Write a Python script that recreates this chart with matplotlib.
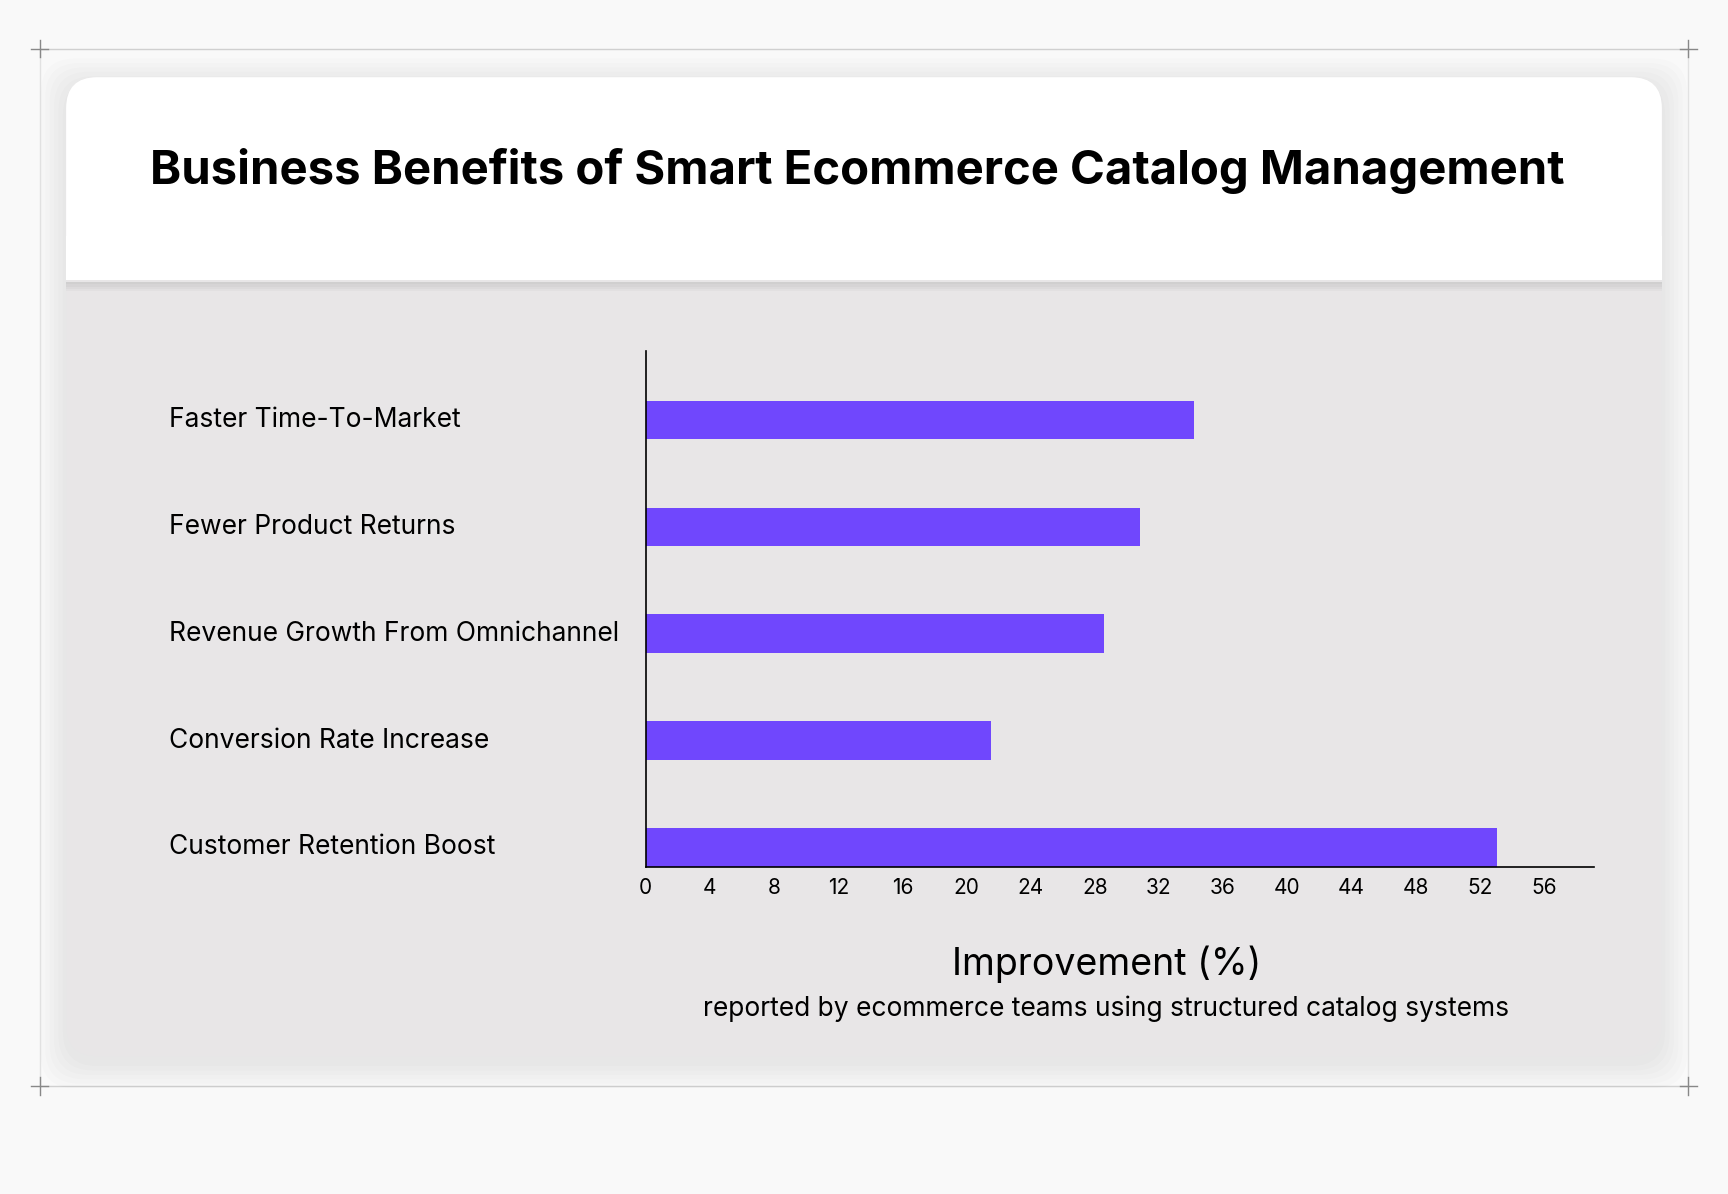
import matplotlib
matplotlib.use("Agg")
import matplotlib.pyplot as plt
from matplotlib.patches import FancyBboxPatch, Rectangle
from matplotlib.lines import Line2D
import matplotlib.transforms as mtrans

categories = ["Faster Time-To-Market", "Fewer Product Returns", "Revenue Growth From Omnichannel",
              "Conversion Rate Increase", "Customer Retention Boost"]
values = [34.2, 30.8, 28.6, 21.5, 53.1]
ticks = list(range(0, 57, 4))

W, H = 1568, 1083
fig = plt.figure(figsize=(17.28, 11.94), dpi=100)
fig.patch.set_facecolor("#f9f9f9")

def fx(x): return x / W
def fy(y): return 1 - y / H

Z = -10
for y in (44, 985):
    fig.add_artist(Line2D([fx(36), fx(1532)], [fy(y), fy(y)], color="#d0d0d0", lw=1, zorder=Z))
for x in (36, 1532):
    fig.add_artist(Line2D([fx(x), fx(x)], [fy(44), fy(985)], color="#e2e2e2", lw=1, zorder=Z))
for (x, y) in [(36, 44), (1532, 44), (36, 985), (1532, 985)]:
    fig.add_artist(Line2D([fx(x - 8), fx(x + 8)], [fy(y), fy(y)], color="#888", lw=1, zorder=Z))
    fig.add_artist(Line2D([fx(x), fx(x)], [fy(y - 8), fy(y + 8)], color="#888", lw=1, zorder=Z))

for i in range(6):
    d = 3 + i * 4
    fig.add_artist(FancyBboxPatch((fx(60 - d), fy(958 + d + 6)), fx(1448 + 2 * d), (888 + 2 * d) / H,
                   boxstyle="round,pad=0,rounding_size=0.02", transform=fig.transFigure,
                   fc="black", ec="none", alpha=0.012, mutation_aspect=W / H, zorder=Z))
fig.add_artist(FancyBboxPatch((fx(60), fy(958)), fx(1448), 888 / H,
               boxstyle="round,pad=0,rounding_size=0.018", transform=fig.transFigure,
               fc="#e8e6e7", ec="none", mutation_aspect=W / H, zorder=Z))
for i in range(4):
    fig.add_artist(Rectangle((fx(60), fy(256 + 2 * i + 2)), fx(1448), (2 * i + 2) / H, transform=fig.transFigure,
                   fc="black", ec="none", alpha=0.025, zorder=Z))
fig.add_artist(FancyBboxPatch((fx(60), fy(254)), fx(1448), 184 / H,
               boxstyle="round,pad=0,rounding_size=0.018", transform=fig.transFigure,
               fc="white", ec="none", mutation_aspect=W / H, zorder=Z))
fig.add_artist(Rectangle((fx(60), fy(254)), fx(1448), 40 / H, transform=fig.transFigure,
               fc="white", ec="none", zorder=Z))

fig.text(fx(778), fy(155), "Business Benefits of Smart Ecommerce Catalog Management",
         ha="center", va="center", fontsize=34, fontweight="bold", family="Inter")

ax = fig.add_axes([fx(586), fy(786), fx(1446 - 586), (786 - 318) / H])
ax.set_facecolor("none")
ypos = [4, 3, 2, 1, 0]
ax.barh(ypos, values, height=0.36, color="#7047fd", linewidth=0)
ax.set_xlim(0, 59.1)
ax.set_ylim(-0.18, 4.65)
ax.set_xticks(ticks)
ax.set_xticklabels([str(t) for t in ticks], family="Inter", fontsize=15)
ax.tick_params(axis="x", length=0, pad=8)
ax.set_yticks([])
for s in ["top", "right"]:
    ax.spines[s].set_visible(False)
ax.spines["left"].set_linewidth(1.2)
ax.spines["bottom"].set_linewidth(1.2)

tr = mtrans.blended_transform_factory(fig.transFigure, ax.transData)
for c, y in zip(categories, ypos):
    fig.text(fx(153), y, c, transform=tr, ha="left", va="center", fontsize=19, family="Inter")

fig.text(fx(1004), fy(875), "Improvement (%)", ha="center", va="center", fontsize=27, family="Inter")
fig.text(fx(1004), fy(915), "reported by ecommerce teams using structured catalog systems",
         ha="center", va="center", fontsize=19, family="Inter")

fig.savefig("out.png", dpi=100, facecolor=fig.get_facecolor())
